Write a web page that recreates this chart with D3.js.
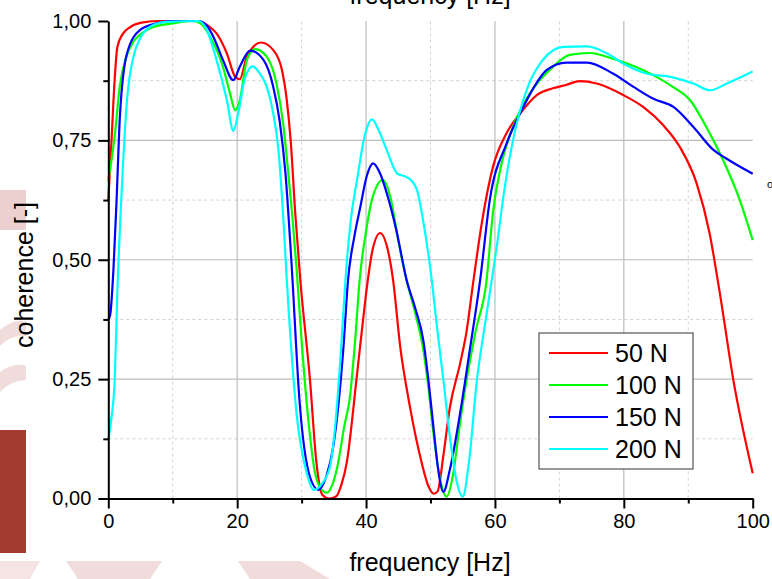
<!DOCTYPE html>
<html>
<head>
<meta charset="utf-8">
<script src="https://cdn.jsdelivr.net/npm/d3@7/dist/d3.min.js"></script>
<style>
  html, body { margin: 0; padding: 0; background: #ffffff; }
  svg { display: block; font-family: "Liberation Sans", Arial, sans-serif; }
</style>
</head>
<body>
<svg id="chart" width="772" height="579"></svg>
<script>
// Coherence spectra for four preload levels: [frequency Hz, coherence]
const series50 = [[0,0.625],[0.5,0.75],[1.0,0.88],[1.4,0.945],[2.2,0.972],[3.5,0.988],[5.4,0.997],[8,1.0],[14,1.0],[15.5,0.99],[16.8,0.974],[18.4,0.932],[19.7,0.883],[20.4,0.878],[21.5,0.925],[23.7,0.955],[25.6,0.939],[26.9,0.9],[27.7,0.834],[28.3,0.75],[29.0,0.6],[29.8,0.457],[31.3,0.248],[32.3,0.075],[33.2,0.008],[34.3,0.0],[35.4,0.005],[36.2,0.03],[37,0.075],[38.5,0.248],[39.5,0.37],[40.2,0.45],[41.0,0.52],[42.2,0.556],[43.2,0.53],[44.2,0.457],[45.3,0.318],[46.8,0.193],[48.4,0.088],[49.7,0.025],[50.5,0.01],[51.1,0.015],[52,0.09],[53,0.19],[54.6,0.283],[55.6,0.35],[56.6,0.45],[58,0.58],[59.7,0.695],[61.8,0.765],[63.9,0.806],[66.5,0.845],[69,0.859],[71,0.866],[73.2,0.874],[75.8,0.869],[79.9,0.845],[83,0.82],[86.1,0.782],[88.7,0.736],[91.3,0.66],[93.3,0.556],[94.9,0.43],[97,0.248],[100,0.053]];

const series100 = [[0,0.665],[1.0,0.76],[1.8,0.865],[2.8,0.925],[3.9,0.957],[5,0.972],[6.5,0.985],[10,0.995],[13,1.0],[14.3,0.995],[15.8,0.967],[17.8,0.904],[18.9,0.848],[19.7,0.813],[20.4,0.834],[21.5,0.918],[22.8,0.941],[24.6,0.925],[26.1,0.869],[27.2,0.778],[27.8,0.7],[28.5,0.6],[29.2,0.485],[30,0.33],[31,0.17],[32,0.06],[33,0.02],[33.9,0.012],[34.8,0.03],[35.6,0.07],[36.6,0.15],[37.5,0.213],[38.3,0.33],[39,0.457],[40,0.56],[41,0.63],[42.6,0.667],[43.8,0.63],[45,0.54],[46.3,0.457],[47.6,0.39],[48.9,0.31],[49.7,0.23],[50.4,0.143],[51.5,0.04],[52.5,0.004],[53.5,0.05],[54.5,0.15],[55.6,0.248],[57,0.35],[58.7,0.457],[59.7,0.6],[61,0.7],[62.8,0.778],[65.4,0.848],[69,0.904],[71.6,0.929],[74.7,0.933],[78.3,0.921],[83.5,0.894],[87.6,0.862],[90.3,0.834],[92.8,0.778],[95.4,0.709],[98,0.625],[100,0.541]];

const series150 = [[0,0.374],[0.3,0.385],[0.8,0.48],[1.3,0.63],[1.8,0.8],[2.9,0.932],[4.9,0.981],[7.5,0.995],[10,1.0],[14,1.0],[15.3,0.99],[16.3,0.967],[17.8,0.918],[19.4,0.876],[20.4,0.904],[22,0.938],[24.1,0.918],[25.6,0.862],[26.6,0.79],[27.5,0.68],[28.4,0.5],[29.7,0.2],[31.3,0.045],[32.6,0.018],[33.8,0.045],[34.9,0.108],[36.5,0.318],[37.2,0.457],[38.2,0.55],[39.1,0.61],[40.1,0.675],[41.1,0.702],[42.2,0.68],[43.2,0.64],[44.7,0.562],[46.3,0.457],[47.6,0.4],[48.9,0.33],[49.7,0.245],[50.4,0.157],[51.2,0.06],[52.0,0.014],[53.0,0.06],[54.6,0.179],[56.2,0.32],[57.7,0.457],[59.2,0.625],[61.8,0.743],[64.4,0.82],[66,0.86],[68,0.897],[71.1,0.913],[74.3,0.913],[78.3,0.89],[81.5,0.862],[84.6,0.837],[87.7,0.82],[90.8,0.778],[93.9,0.73],[95.9,0.712],[100,0.68]];

const series200 = [[0,0.122],[0.5,0.17],[1.0,0.25],[1.4,0.43],[2.1,0.65],[2.9,0.834],[3.9,0.925],[5,0.965],[6.5,0.988],[9,0.998],[14,1.0],[15.3,0.981],[16.8,0.918],[18.4,0.834],[19.4,0.77],[20.2,0.81],[21.2,0.88],[22.4,0.905],[23.5,0.89],[24.6,0.862],[25.6,0.806],[26.4,0.73],[27.1,0.6],[27.7,0.457],[29.2,0.18],[30.8,0.053],[31.9,0.018],[33.1,0.03],[34.4,0.067],[35.4,0.18],[36.2,0.33],[36.8,0.457],[37.6,0.58],[38.6,0.667],[39.8,0.76],[40.9,0.794],[42,0.77],[43.2,0.73],[44.8,0.681],[46.3,0.673],[47.1,0.665],[47.9,0.646],[49.1,0.562],[50.2,0.457],[51,0.36],[52,0.248],[53,0.13],[54,0.04],[55.0,0.004],[56,0.08],[57.2,0.248],[58.4,0.36],[59.5,0.457],[60.2,0.52],[61.5,0.65],[62.8,0.75],[64.9,0.855],[67.4,0.918],[70.6,0.946],[74.3,0.947],[77.4,0.932],[79.9,0.911],[83.5,0.89],[87.6,0.882],[90.8,0.869],[93.4,0.855],[96,0.869],[100,0.894]];

const seriesNames = ["50 N", "100 N", "150 N", "200 N"];
const seriesColors = ["#ff0000", "#00ff00", "#0000ff", "#00ffff"];
const seriesData = [series50, series100, series150, series200];

const xMajorTicks = [0, 20, 40, 60, 80, 100];
const xMinorTicks = [10, 30, 50, 70, 90];
const yMajorTicks = [0, 0.25, 0.5, 0.75, 1.0];
const yMinorTicks = [0.125, 0.375, 0.625, 0.875];

const svg = d3.select("#chart");

// Decorative background pieces outside the plot panel
const deco = svg.append("g");
deco.append("rect").attr("x", 0).attr("y", 430).attr("width", 26).attr("height", 123).attr("fill", "#a43b31");
deco.append("rect").attr("x", 0).attr("y", 190).attr("width", 26).attr("height", 40).attr("fill", "#ecd0d0");
deco.append("path").attr("d", "M0,330 Q14,318 26,322 L26,336 Q12,334 0,346 Z").attr("fill", "#f1dcdc");
deco.append("path").attr("d", "M0,372 Q14,362 26,366 L26,380 Q12,380 0,392 Z").attr("fill", "#f1dcdc");
deco.append("path").attr("d", "M66,561 L162,561 L150,579 L78,579 Z").attr("fill", "#f1dcdc");
deco.append("path").attr("d", "M238,561 L300,561 L330,579 L250,579 Z").attr("fill", "#f1dcdc");
deco.append("path").attr("d", "M0,561 L40,561 L30,579 L0,579 Z").attr("fill", "#f4e4e4");

const x = d3.scaleLinear().domain([0, 100]).range([108.3, 752.7]);
const y = d3.scaleLinear().domain([0, 1]).range([498.5, 21]);

const locale = d3.formatLocale({ decimal: ",", thousands: ".", grouping: [3], currency: ["", ""] });
const fmtY = locale.format(".2f");

// Grid
const grid = svg.append("g");
grid.selectAll(".vminor").data(xMinorTicks).join("line")
  .attr("x1", d => x(d)).attr("x2", d => x(d))
  .attr("y1", y(0)).attr("y2", y(1))
  .attr("stroke", "#d2d2d2").attr("stroke-width", 1).attr("stroke-dasharray", "3,3");
grid.selectAll(".hminor").data(yMinorTicks).join("line")
  .attr("x1", x(0)).attr("x2", x(100))
  .attr("y1", d => y(d)).attr("y2", d => y(d))
  .attr("stroke", "#d2d2d2").attr("stroke-width", 1).attr("stroke-dasharray", "3,3");
grid.selectAll(".vmajor").data(xMajorTicks.filter(d => d > 0 && d < 100)).join("line")
  .attr("x1", d => x(d)).attr("x2", d => x(d))
  .attr("y1", y(0)).attr("y2", y(1))
  .attr("stroke", "#bdbdbd").attr("stroke-width", 1.2);
grid.selectAll(".hmajor").data(yMajorTicks.filter(d => d > 0 && d < 1)).join("line")
  .attr("x1", x(0)).attr("x2", x(100))
  .attr("y1", d => y(d)).attr("y2", d => y(d))
  .attr("stroke", "#bdbdbd").attr("stroke-width", 1.2);

// Curves
const line = d3.line()
  .x(d => x(d[0]))
  .y(d => y(d[1]))
  .curve(d3.curveMonotoneX);

svg.append("g").selectAll("path").data(seriesData).join("path")
  .attr("d", d => line(d))
  .attr("fill", "none")
  .attr("stroke", (d, i) => seriesColors[i])
  .attr("stroke-width", 2.2)
  .attr("stroke-linejoin", "round");

// Axes
function styleAxis(g) {
  g.select(".domain").attr("stroke", "#000").attr("stroke-width", 2);
  g.selectAll(".tick line").attr("stroke", "#000").attr("stroke-width", 2);
  g.selectAll(".tick text").attr("fill", "#000").attr("font-size", 20)
    .attr("font-family", "'Liberation Sans', Arial, sans-serif");
}

const xAxisMinor = svg.append("g").attr("transform", `translate(0,${y(0)})`)
  .call(d3.axisBottom(x).tickValues(xMinorTicks).tickSize(5).tickFormat(""));
styleAxis(xAxisMinor);
xAxisMinor.select(".domain").remove();

const xAxis = svg.append("g").attr("transform", `translate(0,${y(0)})`)
  .call(d3.axisBottom(x).tickValues(xMajorTicks).tickSize(10).tickSizeOuter(0).tickPadding(5).tickFormat(d3.format("d")));
styleAxis(xAxis);

const yAxisMinor = svg.append("g").attr("transform", `translate(${x(0)},0)`)
  .call(d3.axisLeft(y).tickValues(yMinorTicks).tickSize(5).tickFormat(""));
styleAxis(yAxisMinor);
yAxisMinor.select(".domain").remove();

const yAxis = svg.append("g").attr("transform", `translate(${x(0)},0)`)
  .call(d3.axisLeft(y).tickValues(yMajorTicks).tickSize(10).tickSizeOuter(0).tickPadding(7).tickFormat(fmtY));
styleAxis(yAxis);

// Titles (the upper one sits partly above the page edge)
svg.append("text").attr("x", 430).attr("y", 571).attr("text-anchor", "middle")
  .attr("font-size", 25).attr("fill", "#000").text("frequency [Hz]");
svg.append("text").attr("x", 430).attr("y", 3.5).attr("text-anchor", "middle")
  .attr("font-size", 25).attr("fill", "#000").text("frequency [Hz]");
svg.append("text").attr("transform", "translate(33,275) rotate(-90)").attr("text-anchor", "middle")
  .attr("font-size", 25).attr("fill", "#000").text("coherence [-]");
svg.append("text").attr("x", 767).attr("y", 188).attr("font-size", 11).attr("fill", "#000").text("o");

// Legend
const legend = svg.append("g").attr("transform", "translate(539,333)");
legend.append("rect").attr("x", 0).attr("y", 0).attr("width", 154).attr("height", 136)
  .attr("fill", "#fff").attr("stroke", "#333").attr("stroke-width", 1);
const items = legend.selectAll("g.item").data(seriesNames).join("g")
  .attr("transform", (d, i) => `translate(0,${20 + i * 32})`);
items.append("line").attr("x1", 10).attr("x2", 69).attr("y1", 0).attr("y2", 0)
  .attr("stroke", (d, i) => seriesColors[i]).attr("stroke-width", 2.2);
items.append("text").attr("x", 76).attr("y", 0).attr("dy", "0.36em")
  .attr("font-size", 25).attr("fill", "#000").text(d => d);
</script>
</body>
</html>
